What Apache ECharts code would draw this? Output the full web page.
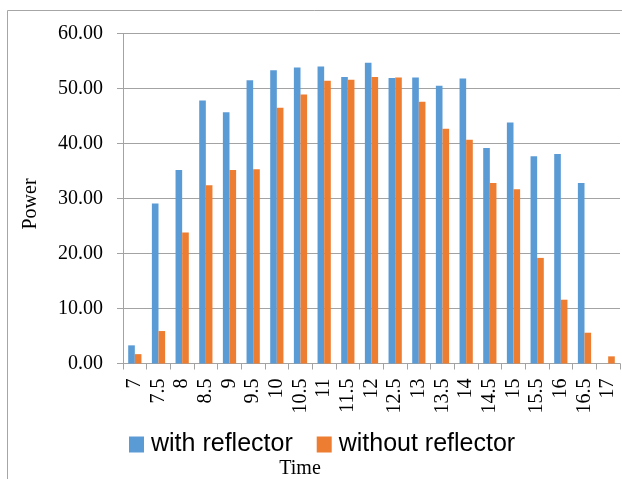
<!DOCTYPE html>
<html>
<head>
<meta charset="utf-8">
<script src="https://cdn.jsdelivr.net/npm/echarts@6/dist/echarts.min.js"></script>
<style>
  html, body { margin: 0; padding: 0; background: #fff; }
  #chart { width: 622px; height: 479px; }
</style>
</head>
<body>
<div id="chart"></div>
<script>
// Hour of day (category axis)
const times = ['7','7.5','8','8.5','9','9.5','10','10.5','11','11.5','12','12.5','13','13.5','14','14.5','15','15.5','16','16.5','17'];
// Power output with the reflector fitted
const withReflector = [3.3, 29.1, 35.2, 47.8, 45.7, 51.5, 53.3, 53.8, 54.0, 52.1, 54.7, 51.9, 52.0, 50.5, 51.8, 39.2, 43.8, 37.7, 38.1, 32.8, 0];
// Power output without the reflector
const withoutReflector = [1.7, 5.9, 23.8, 32.4, 35.2, 35.3, 46.5, 48.9, 51.4, 51.6, 52.1, 52.0, 47.6, 42.7, 40.7, 32.8, 31.7, 19.2, 11.6, 5.6, 1.3];
// Value axis range
const yMin = 0, yMax = 60, yStep = 10;

const serif = '"Liberation Serif", "DejaVu Serif", serif';
const sans = '"Liberation Sans", Arial, sans-serif';
const gridGray = '#a3a3a3';

const chart = echarts.init(document.getElementById('chart'), null, { renderer: 'canvas' });
chart.setOption({
  animation: false,
  backgroundColor: '#fff',
  color: ['#5B9BD5', '#ED7D31'],
  grid: { left: 123, right: 2, top: 33.5, bottom: 115.5, containLabel: false },
  legend: {
    left: 124,
    top: 427,
    icon: 'rect',
    itemWidth: 15,
    itemHeight: 16,
    itemGap: 24,
    textStyle: { fontFamily: sans, fontSize: 25, color: '#000', padding: [0, 0, 0, 2] },
    data: ['with reflector', 'without reflector']
  },
  xAxis: {
    type: 'category',
    data: times,
    boundaryGap: true,
    axisLine: { lineStyle: { color: gridGray, width: 1 } },
    axisTick: { show: true, length: 6, alignWithLabel: false, lineStyle: { color: gridGray } },
    axisLabel: {
      rotate: 90,
      interval: 0,
      margin: 15,
      fontFamily: serif,
      fontSize: 20,
      color: '#000'
    }
  },
  yAxis: {
    type: 'value',
    min: yMin,
    max: yMax,
    interval: yStep,
    axisLine: { show: true, lineStyle: { color: gridGray, width: 1 } },
    axisTick: { show: true, length: 6, lineStyle: { color: gridGray } },
    splitLine: { show: true, lineStyle: { color: gridGray, width: 1 } },
    axisLabel: {
      margin: 20,
      fontFamily: serif,
      fontSize: 20,
      color: '#000',
      formatter: v => v.toFixed(2)
    }
  },
  graphic: [
    // chart frame (left and top edges)
    { type: 'line', shape: { x1: 7.5, y1: 10.5, x2: 7.5, y2: 479 }, style: { stroke: '#a6a6a6', lineWidth: 1 } },
    { type: 'line', shape: { x1: 7.5, y1: 10.5, x2: 622, y2: 10.5 }, style: { stroke: '#a6a6a6', lineWidth: 1 } },
    // axis titles
    { type: 'text', x: 31, y: 204, rotation: Math.PI / 2,
      style: { text: 'Power', fontFamily: serif, fontSize: 20, fill: '#000', align: 'center', verticalAlign: 'middle' } },
    { type: 'text', x: 300, y: 469,
      style: { text: 'Time', fontFamily: serif, fontSize: 20, fill: '#000', align: 'center', verticalAlign: 'middle' } }
  ],
  series: [
    { name: 'with reflector', type: 'bar', data: withReflector, barGap: '0%', barCategoryGap: '44%' },
    { name: 'without reflector', type: 'bar', data: withoutReflector, barGap: '0%', barCategoryGap: '44%' }
  ]
});
</script>
</body>
</html>
